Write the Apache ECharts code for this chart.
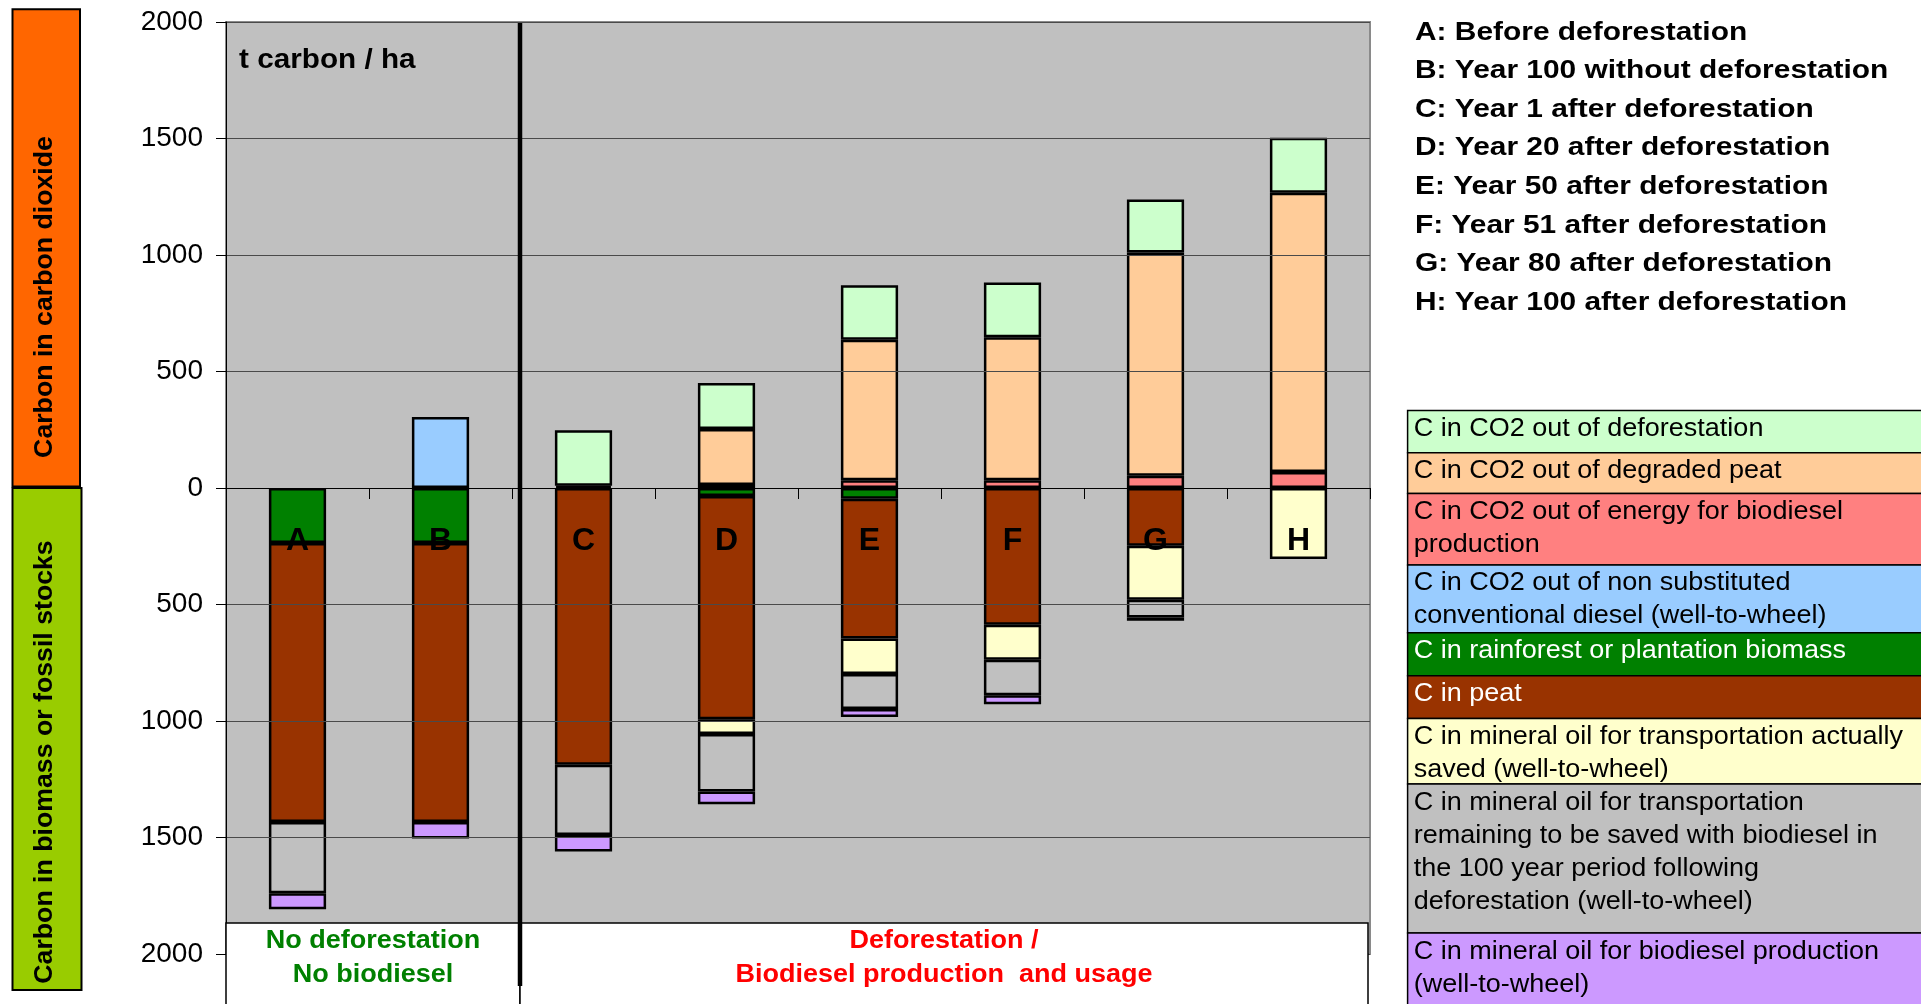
<!DOCTYPE html>
<html>
<head>
<meta charset="utf-8">
<title>Carbon stocks and CO2 – peat rainforest vs. biodiesel plantation</title>
<script src="https://cdn.jsdelivr.net/npm/echarts@6/dist/echarts.min.js"></script>
<style>
  html, body { margin: 0; padding: 0; background: #ffffff; }
  #chart { width: 1921px; height: 1004px; }
</style>
</head>
<body>
<div id="chart"></div>
<script>
// ---------- data (t carbon / ha) ----------
const categories = ['A', 'B', 'C', 'D', 'E', 'F', 'G', 'H'];

const scenarioLabels = [
  'A: Before deforestation',
  'B: Year 100 without deforestation',
  'C: Year 1 after deforestation',
  'D: Year 20 after deforestation',
  'E: Year 50 after deforestation',
  'F: Year 51 after deforestation',
  'G: Year 80 after deforestation',
  'H: Year 100 after deforestation'
];

const yTickValues = [-2000, -1500, -1000, -500, 0, 500, 1000, 1500, 2000];

// carbon already released as CO2 (above zero)
const co2Deforestation      = [0, 0, 238, 198, 234, 235, 227, 236];
const co2DegradedPeat       = [0, 0, 10, 240, 603, 614, 958, 1198];
const co2EnergyBiodiesel    = [0, 0, 0, 13, 33, 33, 53, 69];
const co2NonSubstDiesel     = [0, 305, 0, 0, 0, 0, 0, 0];

// carbon still held in biomass or fossil stocks (below zero)
const cBiomass              = [-236, -236, 0, -34, -46, 0, 0, 0];
const cPeat                 = [-1198, -1198, -1188, -958, -600, -587, -248, 0];
const cOilSaved             = [0, 0, 0, -64, -152, -150, -232, -305];
const cOilRemaining         = [-305, 0, -301, -247, -150, -153, -76, 0];
const cOilBiodieselProd     = [-69, -70, -71, -54, -35, -38, -14, 0];

// legend entries, in legend order (line breaks as printed in the key)
const legendTexts = [
  'C in CO2 out of deforestation',
  'C in CO2 out of degraded peat',
  'C in CO2 out of energy for biodiesel\nproduction',
  'C in CO2 out of non substituted\nconventional diesel (well-to-wheel)',
  'C in rainforest or plantation biomass',
  'C in peat',
  'C in mineral oil for transportation actually\nsaved (well-to-wheel)',
  'C in mineral oil for transportation\nremaining to be saved with biodiesel in\nthe 100 year period following\ndeforestation (well-to-wheel)',
  'C in mineral oil for biodiesel production\n(well-to-wheel)'
];
const legendData = [
  co2Deforestation, co2DegradedPeat, co2EnergyBiodiesel, co2NonSubstDiesel,
  cBiomass, cPeat, cOilSaved, cOilRemaining, cOilBiodieselProd
];

// ---------- styles ----------
const FONT = "'Liberation Sans', Arial, Helvetica, sans-serif";
const fillColors = ['#CCFFCC', '#FFCC99', '#FF8080', '#99CCFF', '#008000', '#993300', '#FFFFCC', '#C0C0C0', '#CC99FF'];
const textColors = ['#000', '#000', '#000', '#000', '#fff', '#fff', '#000', '#000', '#000'];
// drawing order inside the stack: from zero outwards
const stackOrder = [2, 3, 1, 0, 4, 5, 6, 7, 8];

// layout of the plot area
const GRID = { left: 226, top: 22, right: 1370, bottom: 954 };
const STRETCH = 1.08; // horizontal widening of the printed lettering

const series = stackOrder.map(function (k) {
  return {
    name: legendTexts[k].replace(/\n/g, ' '),
    type: 'bar',
    stack: 'carbon',
    barWidth: '40%',
    data: legendData[k].map(function (v) { return v === 0 ? '-' : v; }),
    itemStyle: { color: fillColors[k], borderColor: '#000', borderWidth: 2.5 },
    emphasis: { disabled: true }
  };
});

const chart = echarts.init(document.getElementById('chart'), null, { renderer: 'canvas' });

chart.setOption({
  animation: false,
  backgroundColor: '#ffffff',
  textStyle: { fontFamily: FONT },
  grid: {
    left: GRID.left,
    top: GRID.top,
    width: GRID.right - GRID.left,
    height: GRID.bottom - GRID.top,
    show: true,
    backgroundColor: '#C0C0C0',
    borderColor: '#8a8a8a',
    borderWidth: 2,
    containLabel: false,
    outerBoundsMode: 'none'
  },
  xAxis: {
    type: 'category',
    data: categories,
    z: 10,
    axisLine: { onZero: true, lineStyle: { color: '#000', width: 1 } },
    axisTick: { show: true, length: 11, interval: 0, lineStyle: { color: '#000', width: 1 } },
    axisLabel: { show: false },
    splitLine: { show: false }
  },
  yAxis: {
    type: 'value',
    min: yTickValues[0],
    max: yTickValues[yTickValues.length - 1],
    interval: 500,
    z: 5,
    axisLine: { show: true, lineStyle: { color: '#000', width: 1 } },
    axisTick: { show: true, length: 10, lineStyle: { color: '#000', width: 1 } },
    axisLabel: {
      margin: 23, color: '#000', fontSize: 28, fontFamily: FONT,
      formatter: function (v) { return String(Math.abs(v)); }
    },
    splitLine: { show: true, lineStyle: { color: '#4a4a4a', width: 1 } }
  },
  series: series
});

// ---------- annotations around the plot ----------
const xOf = function (c) { return chart.convertToPixel({ xAxisIndex: 0 }, c); };
const yZero = chart.convertToPixel({ yAxisIndex: 0 }, 0);
const splitX = (xOf('B') + xOf('C')) / 2 + 8;
const boxTop = 923;
const boxBottom = 1012;

const graphics = [];

// scenario letters inside the bars, just below zero
categories.forEach(function (c) {
  graphics.push({
    type: 'text', z: 21, x: xOf(c), y: yZero + 53,
    style: {
      text: c, x: 0, y: 0, fill: '#000', fontFamily: FONT, fontSize: 32, fontWeight: 'bold',
      align: 'center', verticalAlign: 'middle'
    }
  });
});

// white captions under the bars
graphics.push({
  type: 'rect', z: 20,
  shape: { x: GRID.left, y: boxTop, width: splitX - GRID.left, height: boxBottom - boxTop },
  style: { fill: '#ffffff', stroke: '#000', lineWidth: 1.5 }
});
graphics.push({
  type: 'rect', z: 20,
  shape: { x: splitX, y: boxTop, width: GRID.right - 2 - splitX, height: boxBottom - boxTop },
  style: { fill: '#ffffff', stroke: '#000', lineWidth: 1.5 }
});
function caption(cx, lines, color) {
  lines.forEach(function (t, i) {
    graphics.push({
      type: 'text', z: 21, x: cx, y: 941 + i * 34, scaleX: STRETCH,
      style: {
        text: t, x: 0, y: 0, fill: color, fontFamily: FONT, fontSize: 25, fontWeight: 'bold',
        align: 'center', verticalAlign: 'middle'
      }
    });
  });
}
caption((GRID.left + splitX) / 2, ['No deforestation', 'No biodiesel'], '#008000');
caption((splitX + GRID.right - 2) / 2, ['Deforestation /', 'Biodiesel production  and usage'], '#FF0000');

// separator between the two groups
graphics.push({
  type: 'line', z: 22,
  shape: { x1: splitX, y1: GRID.top + 1, x2: splitX, y2: 986 },
  style: { stroke: '#000', lineWidth: 4.5 }
});

// unit label
graphics.push({
  type: 'text', z: 21, x: 239, y: 61, scaleX: 1.1,
  style: {
    text: 't carbon / ha', x: 0, y: 0, fill: '#000', fontFamily: FONT,
    fontSize: 27, fontWeight: 'bold', align: 'left', verticalAlign: 'middle'
  }
});

// side bars: CO2 above zero, stocks below
graphics.push({
  type: 'rect', z: 20,
  shape: { x: 12.5, y: 9.3, width: 67.5, height: yZero - 1.5 - 9.3 },
  style: { fill: '#FF6600', stroke: '#000', lineWidth: 2 }
});
graphics.push({
  type: 'rect', z: 20,
  shape: { x: 12.5, y: yZero, width: 69, height: 990 - yZero },
  style: { fill: '#99CC00', stroke: '#000', lineWidth: 2 }
});
graphics.push({
  type: 'text', z: 21, x: 45, y: 297, rotation: Math.PI / 2,
  style: {
    text: 'Carbon in carbon dioxide', x: 0, y: 0, fill: '#000', fontFamily: FONT,
    fontSize: 26.7, fontWeight: 'bold', align: 'center', verticalAlign: 'middle'
  }
});
graphics.push({
  type: 'text', z: 21, x: 45, y: 762, rotation: Math.PI / 2,
  style: {
    text: 'Carbon in biomass or fossil stocks', x: 0, y: 0, fill: '#000', fontFamily: FONT,
    fontSize: 26.7, fontWeight: 'bold', align: 'center', verticalAlign: 'middle'
  }
});

// scenario key
scenarioLabels.forEach(function (t, i) {
  graphics.push({
    type: 'text', z: 21, x: 1415, y: 32.2 + i * 38.6, scaleX: 1.12,
    style: {
      text: t, x: 0, y: 0, fill: '#000', fontFamily: FONT, fontSize: 26.7,
      fontWeight: 'bold', align: 'left', verticalAlign: 'middle'
    }
  });
});

// colour key
const keyRowHeights = [42.4, 40.8, 71.3, 67.8, 43.1, 42.8, 65.4, 149.1, 90];
let rowTop = 410.4;
legendTexts.forEach(function (t, k) {
  const h = keyRowHeights[k];
  graphics.push({
    type: 'rect', z: 20,
    shape: { x: 1407.6, y: rowTop, width: 540, height: h },
    style: { fill: fillColors[k], stroke: '#000', lineWidth: 1.5 }
  });
  graphics.push({
    type: 'text', z: 21, x: 1413.7, y: rowTop + 2.2, scaleX: STRETCH,
    style: {
      text: t, x: 0, y: 0, fill: textColors[k], fontFamily: FONT, fontSize: 25,
      lineHeight: 33, align: 'left', verticalAlign: 'top'
    }
  });
  rowTop += h;
});

chart.setOption({ graphic: { elements: graphics } });
</script>
</body>
</html>
